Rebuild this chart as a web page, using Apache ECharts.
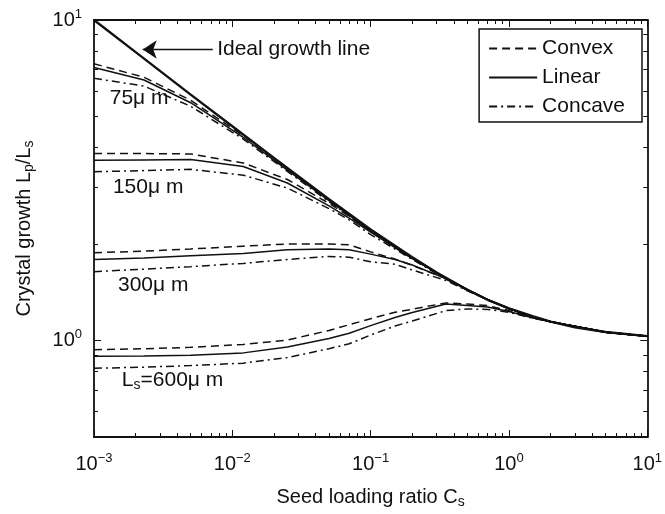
<!DOCTYPE html>
<html>
<head>
<meta charset="utf-8">
<script src="https://cdn.jsdelivr.net/npm/echarts@6/dist/echarts.min.js"></script>
<style>
  html, body { margin: 0; padding: 0; background: #fff; }
  #chart { width: 665px; height: 514px; }
</style>
</head>
<body>
<div id="chart"></div>
<script>
// --- data ---
const seedRatio = [0.001, 0.0023, 0.005, 0.012, 0.025, 0.05, 0.07, 0.1, 0.15, 0.2, 0.35, 0.5, 0.7, 1, 1.5, 2, 5, 10];

const convex75  = [7.30, 6.63, 5.62, 4.36, 3.43, 2.75, 2.47, 2.21, 1.965, 1.812, 1.565, 1.44, 1.342, 1.258, 1.185, 1.145, 1.062, 1.032];
const linear75  = [7.11, 6.50, 5.52, 4.30, 3.40, 2.73, 2.46, 2.20, 1.96, 1.81, 1.565, 1.44, 1.342, 1.258, 1.185, 1.145, 1.062, 1.032];
const concave75 = [6.58, 6.22, 5.38, 4.25, 3.37, 2.71, 2.45, 2.19, 1.955, 1.805, 1.56, 1.44, 1.342, 1.258, 1.185, 1.145, 1.062, 1.032];

const convex150  = [3.83, 3.83, 3.82, 3.58, 3.18, 2.68, 2.44, 2.19, 1.955, 1.805, 1.565, 1.44, 1.342, 1.258, 1.185, 1.145, 1.062, 1.032];
const linear150  = [3.65, 3.66, 3.67, 3.49, 3.10, 2.63, 2.41, 2.18, 1.95, 1.80, 1.565, 1.44, 1.342, 1.258, 1.185, 1.145, 1.062, 1.032];
const concave150 = [3.36, 3.39, 3.42, 3.28, 2.99, 2.58, 2.38, 2.14, 1.93, 1.79, 1.555, 1.435, 1.342, 1.258, 1.185, 1.145, 1.062, 1.032];

const convex300  = [1.88, 1.90, 1.93, 1.97, 2.00, 2.00, 1.99, 1.89, 1.795, 1.715, 1.56, 1.44, 1.342, 1.258, 1.185, 1.145, 1.062, 1.032];
const linear300  = [1.79, 1.81, 1.84, 1.87, 1.92, 1.93, 1.92, 1.86, 1.79, 1.72, 1.56, 1.44, 1.342, 1.258, 1.185, 1.145, 1.062, 1.032];
const concave300 = [1.64, 1.67, 1.70, 1.74, 1.79, 1.83, 1.82, 1.76, 1.73, 1.66, 1.54, 1.43, 1.34, 1.258, 1.185, 1.145, 1.062, 1.032];

const convex600  = [0.936, 0.943, 0.952, 0.972, 1.003, 1.075, 1.12, 1.17, 1.225, 1.252, 1.31, 1.30, 1.285, 1.24, 1.178, 1.145, 1.062, 1.032];
const linear600  = [0.893, 0.895, 0.90, 0.915, 0.955, 1.014, 1.053, 1.113, 1.18, 1.223, 1.30, 1.285, 1.272, 1.232, 1.175, 1.145, 1.062, 1.032];
const concave600 = [0.819, 0.826, 0.835, 0.85, 0.885, 0.943, 0.977, 1.04, 1.11, 1.15, 1.24, 1.255, 1.25, 1.225, 1.172, 1.145, 1.062, 1.032];

const idealRatio = [0.001, 0.002, 0.005, 0.01, 0.02, 0.05, 0.1, 0.2, 0.3, 0.5, 0.7, 1, 1.5, 2, 3, 5, 10];
const idealGrowth = [10.0, 7.94, 5.85, 4.66, 3.71, 2.76, 2.22, 1.82, 1.63, 1.44, 1.34, 1.26, 1.19, 1.145, 1.10, 1.063, 1.032];

const xMajor = [0.001, 0.01, 0.1, 1, 10];
const yMajor = [1, 10];
const xDecades = [0.001, 0.01, 0.1, 1];
const yDecades = [0.1, 1];

// annotation text and where it sits (data coords)
const notes = [
  { name: '{t|Ideal growth line}', value: [0.00777, 8.09] },
  { name: '{t|75μ m}', value: [0.0013, 5.72] },
  { name: '{t|150μ m}', value: [0.00137, 3.01] },
  { name: '{t|300μ m}', value: [0.00149, 1.49] },
  { name: '{t|L}{s|s}{t|=600μ m}', value: [0.00159, 0.752] }
];
const arrowFrom = [0.00722, 8.09];
const arrowTo = [0.00225, 8.09];

const FONT = 'Liberation Sans';
const INK = '#111';

function minorTicks(decades, lo, hi) {
  const out = [];
  decades.forEach(d => {
    for (let k = 2; k <= 9; k++) {
      const v = +(k * d).toPrecision(6);
      if (v > lo && v < hi) out.push(v);
    }
  });
  return out;
}
const xMinor = minorTicks(xDecades, 0.001, 10);
const yMinor = minorTicks(yDecades, 0.5, 10);

function powLabel(v) {
  const e = Math.round(Math.log10(v));
  return '{b|10}{s|' + (e < 0 ? '\u2212' + (-e) : e) + '}';
}

const labelRich = {
  b: { fontSize: 20, fontFamily: FONT, color: INK },
  s: { fontSize: 13, fontFamily: FONT, color: INK, padding: [0, 0, 12, 0] }
};
const subRich = { s: { fontSize: 14, fontFamily: FONT, color: INK, padding: [10, 0, 0, 0] } };

const dash = {
  Convex: [8, 5],
  Linear: 'solid',
  Concave: [8, 4, 2, 4]
};

const groups = [
  [convex75, linear75, concave75],
  [convex150, linear150, concave150],
  [convex300, linear300, concave300],
  [convex600, linear600, concave600]
];

const series = [];
groups.forEach(g => {
  ['Convex', 'Linear', 'Concave'].forEach((nm, i) => {
    series.push({
      name: nm,
      type: 'line',
      data: seedRatio.map((x, j) => [x, g[i][j]]),
      symbol: 'none',
      lineStyle: { color: INK, width: 1.5, type: dash[nm] },
      itemStyle: { color: INK },
      animation: false
    });
  });
});

series.push({
  name: 'Ideal',
  type: 'line',
  data: idealRatio.map((x, j) => [x, idealGrowth[j]]),
  symbol: 'none',
  lineStyle: { color: INK, width: 2.4 },
  itemStyle: { color: INK },
  animation: false,
  markLine: {
    silent: true,
    symbol: ['none', 'arrow'],
    symbolSize: 14,
    label: { show: false },
    itemStyle: { color: INK },
    lineStyle: { color: INK, width: 1.3, type: 'solid' },
    data: [[{ coord: arrowFrom }, { coord: arrowTo }]],
    animation: false
  }
});

series.push({
  name: 'notes',
  type: 'scatter',
  data: notes,
  symbolSize: 0,
  silent: true,
  animation: false,
  itemStyle: { opacity: 1, color: INK },
  label: {
    show: true,
    position: 'right',
    distance: 0,
    color: INK,
    formatter: p => p.name,
    rich: {
      t: { fontSize: 21, fontFamily: FONT, color: INK },
      s: { fontSize: 14, fontFamily: FONT, color: INK, padding: [10, 0, 0, 0] }
    }
  }
});

function xAx(pos, ticks, len, withLine, withLabel) {
  const ax = {
    type: 'log', logBase: 10, min: 0.001, max: 10, position: pos,
    axisLine: { show: withLine, lineStyle: { color: INK, width: 1.8 } },
    axisTick: { show: true, inside: true, length: len, customValues: ticks, lineStyle: { color: INK, width: 1 } },
    axisLabel: { show: false },
    splitLine: { show: false }
  };
  if (withLabel) {
    ax.axisLabel = { show: true, customValues: xMajor, formatter: powLabel, rich: labelRich, margin: 15 };
    ax.name = 'Seed loading ratio C{s|s}';
    ax.nameLocation = 'middle';
    ax.nameGap = 48;
    ax.nameTextStyle = { fontSize: 20, fontFamily: FONT, color: INK, rich: subRich };
  }
  return ax;
}

function yAx(pos, ticks, len, withLine, withLabel) {
  const ax = {
    type: 'log', logBase: 10, min: 0.5, max: 10, position: pos,
    axisLine: { show: withLine, lineStyle: { color: INK, width: 1.8 } },
    axisTick: { show: true, inside: true, length: len, customValues: ticks, lineStyle: { color: INK, width: 1 } },
    axisLabel: { show: false },
    splitLine: { show: false }
  };
  if (withLabel) {
    ax.axisLabel = { show: true, customValues: yMajor, formatter: powLabel, rich: labelRich, margin: 12 };
    ax.name = 'Crystal growth L{s|p}/L{s|s}';
    ax.nameLocation = 'middle';
    ax.nameRotate = 90;
    ax.nameGap = 58;
    ax.nameTextStyle = { fontSize: 20, fontFamily: FONT, color: INK, rich: subRich };
  }
  return ax;
}

const chart = echarts.init(document.getElementById('chart'));
chart.setOption({
  backgroundColor: '#fff',
  animation: false,
  grid: { left: 94, right: 14, top: 20, bottom: 71, containLabel: false },
  xAxis: [
    xAx('bottom', xMajor, 7, true, true),
    xAx('bottom', xMinor, 4, false, false),
    xAx('top', xMajor, 7, true, false),
    xAx('top', xMinor, 4, false, false)
  ],
  yAxis: [
    yAx('left', yMajor, 7, true, true),
    yAx('left', yMinor, 4, false, false),
    yAx('right', yMajor, 7, true, false),
    yAx('right', yMinor, 4, false, false)
  ],
  legend: {
    data: ['Convex', 'Linear', 'Concave'],
    orient: 'vertical',
    right: 23,
    top: 29,
    padding: [9, 17, 5, 9],
    itemWidth: 48,
    itemHeight: 14,
    itemGap: 8,
    itemStyle: { opacity: 0 },
    backgroundColor: '#fff',
    borderColor: INK,
    borderWidth: 1.5,
    borderRadius: 0,
    selectedMode: false,
    textStyle: { fontSize: 21, fontFamily: FONT, color: INK }
  },
  series: series
});
</script>
</body>
</html>
